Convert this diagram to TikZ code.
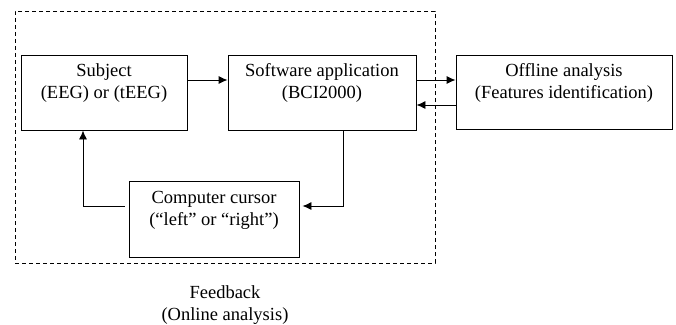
\documentclass[tikz,border=0pt]{standalone}
\usepackage{fontspec}
\setmainfont{Liberation Serif}
\usetikzlibrary{positioning,arrows.meta}

\tikzset{
  blok/.style={draw, line width=0.9pt, inner sep=0pt},
  tekst/.style={align=center, inner sep=0pt, font=\fontsize{18.5}{22}\selectfont},
  pijl/.style={line width=0.9pt, -{Latex[length=9pt,width=8pt]}},
  lijn/.style={line width=0.9pt},
}

\begin{document}
\begin{tikzpicture}[x=1pt,y=1pt]
    \useasboundingbox (0,0) rectangle (676,-324);
    % feedback loop (dashed frame)
    \node[draw, dash pattern=on 4pt off 3pt, line width=0.8pt, minimum width=420pt, minimum height=252pt, inner sep=0pt] (online) at (225,-137) {};
    \node[tekst, below=22pt of online.south] (onlinetxt) {Feedback\\(Online analysis)};

    % boxes
    \node[blok, minimum width=166pt, minimum height=75pt] (subject) at (104,-92.5) {};
    \node[tekst, below=9pt of subject.north] (subjecttxt) {Subject\\(EEG) or (tEEG)};
    \node[blok, minimum width=188pt, minimum height=75pt] (software) at (322,-92.5) {};
    \node[tekst, below=9pt of software.north] (softwaretxt) {Software application\\(BCI2000)};
    \node[blok, minimum width=216pt, minimum height=74pt] (offline) at (564,-92) {};
    \node[tekst, below=9pt of offline.north] (offlinetxt) {Offline analysis\\(Features identification)};
    \node[blok, minimum width=170pt, minimum height=76pt] (cursor) at (214,-219) {};
    \node[tekst, below=10pt of cursor.north] (cursortxt) {Computer cursor\\(“left” or “right”)};

    % connectors
    \draw[pijl] ([yshift=12.5pt]subject.east) -- ([yshift=12.5pt]software.west);
    \draw[pijl] ([yshift=12.5pt]software.east) -- ([yshift=12pt]offline.west);
    \draw[pijl] ([yshift=-13pt]offline.west) -- ([yshift=-12.5pt]software.east);
    \draw[pijl] ([xshift=21pt]software.south) |- ([xshift=3pt,yshift=13pt]cursor.east);
    \draw[pijl] ([xshift=-4pt,yshift=13pt]cursor.west) -| ([xshift=-21pt]subject.south);
\end{tikzpicture}
\end{document}
